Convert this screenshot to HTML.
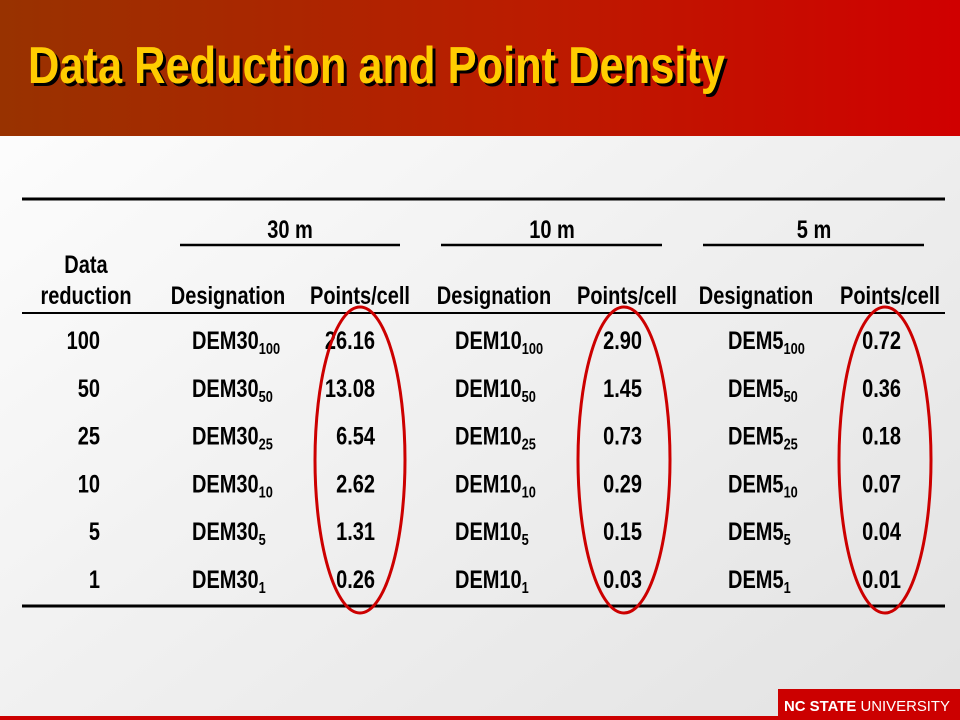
<!DOCTYPE html>
<html><head><meta charset="utf-8"><style>
html,body{margin:0;padding:0;width:960px;height:720px;overflow:hidden}
svg text{font-family:"Liberation Sans Narrow","Liberation Sans",sans-serif}
</style></head><body>
<svg width="960" height="720" viewBox="0 0 960 720">
<defs>
<linearGradient id="hdr" x1="0" x2="1" y1="0" y2="0"><stop offset="0" stop-color="#983200"/><stop offset="0.55" stop-color="#bb1c00"/><stop offset="1" stop-color="#d00000"/></linearGradient>
<linearGradient id="bg" x1="0" x2="1" y1="0" y2="1"><stop offset="0" stop-color="#ffffff"/><stop offset="1" stop-color="#e2e2e2"/></linearGradient>
</defs>
<rect x="0" y="0" width="960" height="720" fill="url(#bg)"/>
<rect x="0" y="0" width="960" height="136" fill="url(#hdr)"/>
<g font-weight="bold" font-size="52">
<text x="31" y="86" fill="#000" textLength="697" lengthAdjust="spacingAndGlyphs">Data Reduction and Point Density</text>
<text x="28" y="83" fill="#ffcc00" textLength="697" lengthAdjust="spacingAndGlyphs">Data Reduction and Point Density</text>
</g>
<g stroke="#000">
<line x1="22" y1="199" x2="945" y2="199" stroke-width="3"/>
<line x1="180" y1="245" x2="400" y2="245" stroke-width="2.5"/>
<line x1="441" y1="245" x2="662" y2="245" stroke-width="2.5"/>
<line x1="703" y1="245" x2="924" y2="245" stroke-width="2.5"/>
<line x1="22" y1="313" x2="945" y2="313" stroke-width="2"/>
<line x1="22" y1="606" x2="945" y2="606" stroke-width="3"/>
</g>
<g class="sq" font-size="25" font-weight="bold" fill="#000" text-anchor="middle">
<text x="290" y="238">30 m</text><text x="552" y="238">10 m</text><text x="814" y="238">5 m</text>
<text x="86" y="273">Data</text><text x="86" y="304">reduction</text>
<text x="228" y="304">Designation</text><text x="360" y="304">Points/cell</text>
<text x="494" y="304">Designation</text><text x="627" y="304">Points/cell</text>
<text x="756" y="304">Designation</text><text x="890" y="304">Points/cell</text>
</g>
<g id="body" class="sq" font-size="25" font-weight="bold" fill="#000"></g>
<g fill="none" stroke="#cc0000" stroke-width="3">
<ellipse cx="360" cy="460" rx="45" ry="153"/>
<ellipse cx="624" cy="460" rx="46" ry="153"/>
<ellipse cx="885" cy="460" rx="46" ry="153"/>
</g>
<rect x="0" y="716" width="960" height="4" fill="#cc0000"/>
<rect x="778" y="689" width="182" height="31" fill="#cc0000"/>
<text x="784" y="711" font-size="15" fill="#fff" font-family="Liberation Sans,sans-serif" textLength="166" lengthAdjust="spacingAndGlyphs"><tspan font-weight="bold">NC STATE</tspan> UNIVERSITY</text>
</svg>
<script>
const reductions=['100','50','25','10','5','1'];
const p30=['26.16','13.08','6.54','2.62','1.31','0.26'];
const p10=['2.90','1.45','0.73','0.29','0.15','0.03'];
const p5=['0.72','0.36','0.18','0.07','0.04','0.01'];
const ns='http://www.w3.org/2000/svg';
const body=document.getElementById('body');
function txt(x,y,s,anchor,sub){
 const t=document.createElementNS(ns,'text');
 t.setAttribute('x',x);t.setAttribute('y',y);t.setAttribute('text-anchor',anchor);
 t.textContent=s;
 if(sub){const ts=document.createElementNS(ns,'tspan');ts.setAttribute('font-size','16');ts.setAttribute('dy','5');ts.textContent=sub;t.appendChild(ts);}
 body.appendChild(t);return t;
}
reductions.forEach((r,i)=>{
 const y=349+i*47.8;
 let e=txt(100,y,r,'end');
 
 
 e=txt(192,y,'DEM30','start',r);
 
 
 e=txt(375,y,p30[i],'end');
 
 
 e=txt(455,y,'DEM10','start',r);
 
 
 e=txt(642,y,p10[i],'end');
 
 
 e=txt(728,y,'DEM5','start',r);
 
 
 e=txt(901,y,p5[i],'end');
 
 
});
document.querySelectorAll('.sq text').forEach(t=>{
 const L=t.getComputedTextLength();
 if(L>0){t.setAttribute('textLength',(L*0.8).toFixed(1));t.setAttribute('lengthAdjust','spacingAndGlyphs');}
});
</script>
</body></html>
